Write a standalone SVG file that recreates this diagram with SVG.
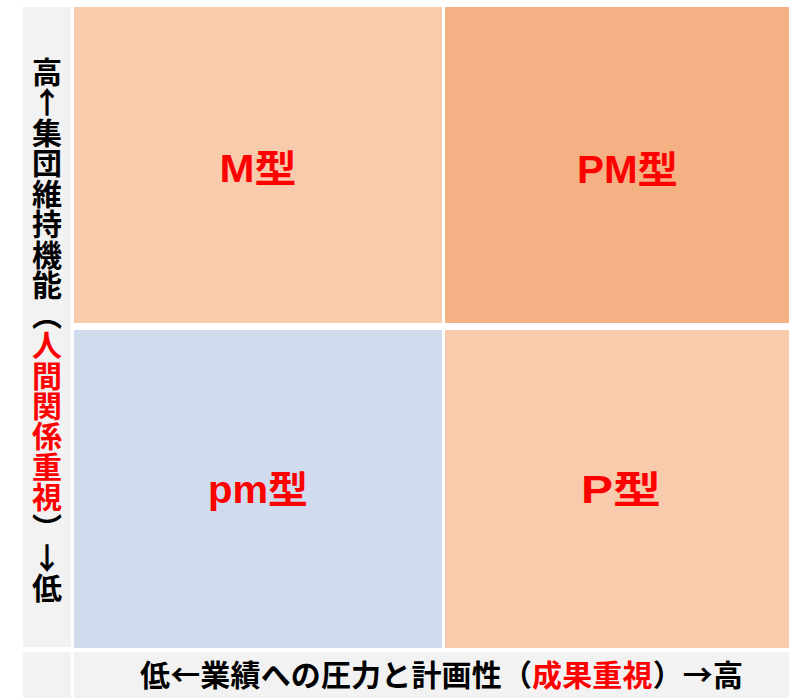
<svg xmlns="http://www.w3.org/2000/svg" width="789" height="698" viewBox="0 0 789 698">
<style>
.axis{font-family:"Noto Sans CJK JP","Noto Sans CJK SC",sans-serif;font-weight:bold;font-size:30px;fill:#000}
.vert{writing-mode:vertical-rl;letter-spacing:0.35px}
.up{text-orientation:upright}
.red{fill:#ff0000}
.lbl{font-family:"Liberation Sans","Noto Sans CJK JP",sans-serif;font-weight:bold;font-size:38px;fill:#ff0000;text-anchor:middle}
.gray{fill:#f2f2f2}
</style>
<rect x="0" y="0" width="789" height="698" fill="#ffffff"/>
<g id="y-axis">
<rect class="gray" x="23" y="7" width="48" height="640"/>
<text class="axis vert" x="47" y="57">高<tspan class="up">↑</tspan>集団維持機能（<tspan class="red">人間関係重視</tspan>）<tspan class="up">↓</tspan>低</text>
</g>
<g id="q-M">
<rect x="74" y="7" width="368" height="316" fill="#f8cbad"/>
<text class="lbl" x="258" y="182" textLength="77" lengthAdjust="spacingAndGlyphs">M型</text>
</g>
<g id="q-PM">
<rect x="445" y="7" width="344" height="316" fill="#f4b183"/>
<text class="lbl" x="627.5" y="183" textLength="101" lengthAdjust="spacingAndGlyphs">PM型</text>
</g>
<g id="q-pm">
<rect x="74" y="330" width="368" height="318" fill="#d0dbee"/>
<text class="lbl" x="258" y="503" textLength="100" lengthAdjust="spacingAndGlyphs">pm型</text>
</g>
<g id="q-P">
<rect x="445" y="330" width="344" height="318" fill="#f8cbad"/>
<text class="lbl" x="621" y="503" textLength="80" lengthAdjust="spacingAndGlyphs">P型</text>
</g>
<g id="x-axis">
<rect class="gray" x="23" y="652" width="48" height="46"/>
<rect class="gray" x="74" y="652" width="715" height="46"/>
<text class="axis" x="140" y="686" textLength="603" lengthAdjust="spacing">低←業績への圧力と計画性（<tspan class="red">成果重視</tspan>）→高</text>
</g>
</svg>
